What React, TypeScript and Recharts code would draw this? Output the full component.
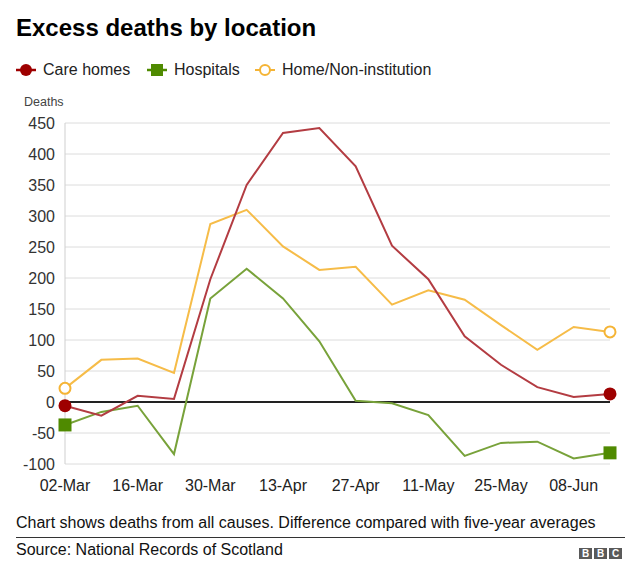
import React from "react";
import { LineChart, Line, XAxis, YAxis, CartesianGrid, ReferenceLine } from "recharts";

const weeks = ["02-Mar","09-Mar","16-Mar","23-Mar","30-Mar","06-Apr","13-Apr","20-Apr","27-Apr","04-May","11-May","18-May","25-May","01-Jun","08-Jun","15-Jun"];
const careHomes = [-6,-22,10,5,198,350,434,442,380,252,198,106,60,24,8,13];
const hospitals = [-37,-16,-6,-84,167,215,167,98,2,-2,-21,-87,-66,-64,-91,-82];
const homeNonInst = [22,68,70,47,287,310,251,213,218,157,180,165,124,84,121,113];
const yTicks = [-100,-50,0,50,100,150,200,250,300,350,400,450];

const data = weeks.map((w, i) => ({ week: w, care: careHomes[i], hosp: hospitals[i], home: homeNonInst[i] }));

const FONT = '"Liberation Sans", Arial, Helvetica, sans-serif';
const last = weeks.length - 1;

const careDot = (p: any) =>
  p.index === 0 || p.index === last ? (
    <circle key={`c${p.index}`} cx={p.cx} cy={p.cy} r={6.5} fill="#9e0000" stroke="none" />
  ) : (
    <g key={`c${p.index}`} />
  );
const hospDot = (p: any) =>
  p.index === 0 || p.index === last ? (
    <rect key={`h${p.index}`} x={p.cx - 6.5} y={p.cy - 6.5} width={13} height={13} fill="#4f8a00" stroke="none" />
  ) : (
    <g key={`h${p.index}`} />
  );
const homeDot = (p: any) =>
  p.index === 0 || p.index === last ? (
    <circle key={`o${p.index}`} cx={p.cx} cy={p.cy} r={5.5} fill="#fff" stroke="#f5b435" strokeWidth={2} />
  ) : (
    <g key={`o${p.index}`} />
  );

const LegendItem = ({ left, label, kind }: { left: number; label: string; kind: string }) => (
  <div style={{ position: "absolute", left, top: 60, height: 20, display: "flex", alignItems: "center" }}>
    <svg width={20} height={20} style={{ marginRight: 7 }}>
      {kind === "care" && (
        <>
          <line x1={0} y1={10} x2={20} y2={10} stroke="#9e0000" strokeWidth={2.5} />
          <circle cx={10} cy={10} r={6} fill="#9e0000" />
        </>
      )}
      {kind === "hosp" && (
        <>
          <line x1={0} y1={10} x2={20} y2={10} stroke="#4f8a00" strokeWidth={2.5} />
          <rect x={4} y={4} width={12} height={12} fill="#4f8a00" />
        </>
      )}
      {kind === "home" && (
        <>
          <line x1={0} y1={10} x2={20} y2={10} stroke="#f5b435" strokeWidth={2} />
          <circle cx={10} cy={10} r={5} fill="#fff" stroke="#f5b435" strokeWidth={2} />
        </>
      )}
    </svg>
    <span style={{ fontSize: 16, color: "#222", whiteSpace: "nowrap" }}>{label}</span>
  </div>
);

export default function App() {
  return (
    <div style={{ position: "absolute", left: 0, top: 0, width: 640, height: 581, background: "#fff", fontFamily: FONT, overflow: "hidden" }}>
      <div style={{ position: "absolute", left: 16, top: 14, fontSize: 24, fontWeight: "bold", color: "#000", whiteSpace: "nowrap" }}>
        Excess deaths by location
      </div>
      <LegendItem left={16} label="Care homes" kind="care" />
      <LegendItem left={147} label="Hospitals" kind="hosp" />
      <LegendItem left={255} label="Home/Non-institution" kind="home" />
      <div style={{ position: "absolute", left: 24, top: 95, fontSize: 12.5, color: "#444" }}>Deaths</div>

      <div style={{ position: "absolute", left: 0, top: 0 }}>
        <LineChart width={640} height={581} data={data} margin={{ top: 123, right: 30, bottom: 87, left: 0 }}>
          <CartesianGrid vertical={false} stroke="#dcdcdc" strokeWidth={1} />
          <XAxis
            dataKey="week"
            interval={1}
            tickLine={false}
            axisLine={false}
            tickMargin={10}
            tick={{ fill: "#222", fontSize: 16, fontFamily: FONT }}
            height={30}
          />
          <YAxis
            width={65}
            domain={[-100, 450]}
            ticks={yTicks}
            interval={0}
            tickLine={false}
            axisLine={{ stroke: "#cfcfcf" }}
            tickMargin={4}
            tick={{ fill: "#333", fontSize: 16, fontFamily: FONT }}
          />
          <ReferenceLine y={0} stroke="#222" strokeWidth={2} />
          <Line type="linear" dataKey="home" stroke="#f6bc48" strokeWidth={2} dot={homeDot} activeDot={false} isAnimationActive={false} />
          <Line type="linear" dataKey="hosp" stroke="#78a23a" strokeWidth={2} dot={hospDot} activeDot={false} isAnimationActive={false} />
          <Line type="linear" dataKey="care" stroke="#b33c42" strokeWidth={2} dot={careDot} activeDot={false} isAnimationActive={false} />
        </LineChart>
      </div>

      <div style={{ position: "absolute", left: 16, top: 514, fontSize: 16, color: "#111", whiteSpace: "nowrap" }}>
        Chart shows deaths from all causes. Difference compared with five-year averages
      </div>
      <div style={{ position: "absolute", left: 16, top: 537, width: 609, height: 1, background: "#333" }} />
      <div style={{ position: "absolute", left: 16, top: 541, fontSize: 16, color: "#111", whiteSpace: "nowrap" }}>
        Source: National Records of Scotland
      </div>
      <div style={{ position: "absolute", left: 579, top: 548, display: "flex", gap: 2 }}>
        {["B", "B", "C"].map((c, i) => (
          <div key={i} style={{ width: 13, height: 11, background: "#5a5a5a", color: "#fff", fontSize: 10, fontWeight: "bold", lineHeight: "11px", textAlign: "center" }}>
            {c}
          </div>
        ))}
      </div>
    </div>
  );
}
